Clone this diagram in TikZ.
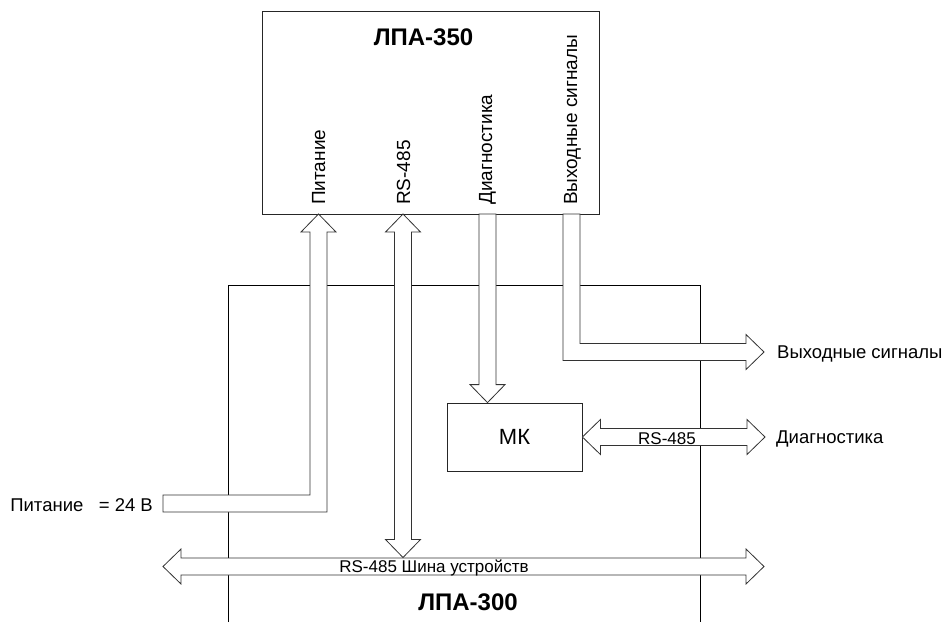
\documentclass[tikz,border=0pt]{standalone}
\usepackage{fontspec}
\setmainfont{Liberation Sans}
\usetikzlibrary{calc,positioning}
\tikzset{
  blk/.style={draw=black!85,line width=.8pt,fill=white,inner sep=0pt},
  fat/.style={draw=black!80,line width=.8pt,fill=white,line join=miter},
  frm/.style={draw=black,line width=.8pt},
  lbl/.style={font=\fontsize{17}{20}\selectfont,inner sep=0pt},
  olbl/.style={font=\fontsize{18.5}{22}\selectfont,inner sep=0pt},
  vlbl/.style={font=\fontsize{19}{22}\selectfont,inner sep=0pt,rotate=90,anchor=base west},
  ttl/.style={font=\fontsize{24}{28}\selectfont\bfseries,inner sep=0pt,anchor=base},
}

\begin{document}
\begin{tikzpicture}[x=1pt,y=-1pt]
  \useasboundingbox (0,0) rectangle (943,622);
  % LPA-300 frame (open at the bottom)
  \draw[frm] (228,622) -- (228,285) -- (700,285) -- (700,622);
  \node[ttl] (t300) at (468,610) {ЛПА-300};
  % LPA-350 box and its ports
  \node[blk,minimum width=337,minimum height=203] (lpa350) at (430.5,112.5) {};
  \node[ttl] (t350) at (423.5,45) {ЛПА-350};
  \node[vlbl] (vPit) at (325,205) {Питание};
  \node[vlbl] (vRS) at (410,205) {RS-485};
  \node[vlbl] (vDiag) at (492,205) {Диагностика};
  \node[vlbl] (vOut) at (577,205) {Выходные сигналы};
  \coordinate (pPit) at (318.5,214);
  \coordinate (pRS) at (403,214);
  \coordinate (pDiag) at (487.5,214);
  \coordinate (pOut) at (571.5,214);
  % MK
  \node[blk,minimum width=135,minimum height=68,font=\fontsize{22}{26}\selectfont] (mk) at (514.5,437) {МК};
  % free ends
  \coordinate (inPit) at (163,503.5);
  \coordinate (busL) at (163,566.5);
  \coordinate (busR) at (764,566.5);
  \coordinate (outR) at (764,352);
  \coordinate (diagR) at (765,437);
  % bus
  \draw[fat] (busL) -- ($(busL)+(18,-17.5)$) -- ($(busL)+(18,-8.5)$) -- ($(busR)+(-18,-8.5)$) -- ($(busR)+(-18,-17.5)$) -- (busR)
    -- ($(busR)+(-18,17.5)$) -- ($(busR)+(-18,8.5)$) -- ($(busL)+(18,8.5)$) -- ($(busL)+(18,17.5)$) -- cycle;
  \node[lbl,anchor=base] (lBus) at (434,572.5) {RS-485 Шина устройств};
  % power input
  \coordinate (cPit) at (pPit |- inPit);
  \draw[fat] ($(inPit)+(0,-8.5)$) -- ($(cPit)+(-8.5,-8.5)$) -- ($(pPit)+(-8.5,18)$) -- ($(pPit)+(-17.5,18)$) -- (pPit)
    -- ($(pPit)+(17.5,18)$) -- ($(pPit)+(8.5,18)$) -- ($(cPit)+(8.5,8.5)$) -- ($(inPit)+(0,8.5)$) -- cycle;
  \node[olbl,anchor=base east] (lPit) at (153,511) {Питание\ \ \ = 24 В};
  % RS-485 down to the bus
  \coordinate (bRS) at ($(pRS |- busL)+(0,-9)$);
  \draw[fat] (pRS) -- ($(pRS)+(17.5,18)$) -- ($(pRS)+(8.5,18)$) -- ($(bRS)+(8.5,-18)$) -- ($(bRS)+(17.5,-18)$) -- (bRS)
    -- ($(bRS)+(-17.5,-18)$) -- ($(bRS)+(-8.5,-18)$) -- ($(pRS)+(-8.5,18)$) -- ($(pRS)+(-17.5,18)$) -- cycle;
  % diagnostics to MK
  \coordinate (tDiag) at (pDiag |- mk.north);
  \draw[fat] ($(pDiag)+(-8.5,0)$) -- ($(tDiag)+(-8.5,-18)$) -- ($(tDiag)+(-17.5,-18)$) -- (tDiag)
    -- ($(tDiag)+(17.5,-18)$) -- ($(tDiag)+(8.5,-18)$) -- ($(pDiag)+(8.5,0)$) -- cycle;
  % output signals
  \coordinate (cOut) at (pOut |- outR);
  \draw[fat] ($(pOut)+(-8.5,0)$) -- ($(cOut)+(-8.5,8.5)$) -- ($(outR)+(-18,8.5)$) -- ($(outR)+(-18,17.5)$) -- (outR)
    -- ($(outR)+(-18,-17.5)$) -- ($(outR)+(-18,-8.5)$) -- ($(cOut)+(8.5,-8.5)$) -- ($(pOut)+(8.5,0)$) -- cycle;
  \node[olbl,anchor=base west] (lOut) at (777,358) {Выходные сигналы};
  % MK link out
  \draw[fat] (mk.east) -- ($(mk.east)+(18,-17.5)$) -- ($(mk.east)+(18,-8.5)$) -- ($(diagR)+(-18,-8.5)$) -- ($(diagR)+(-18,-17.5)$) -- (diagR)
    -- ($(diagR)+(-18,17.5)$) -- ($(diagR)+(-18,8.5)$) -- ($(mk.east)+(18,8.5)$) -- ($(mk.east)+(18,17.5)$) -- cycle;
  \node[lbl,anchor=base] (lMkRS) at (667,444) {RS-485};
  \node[olbl,anchor=base west] (lDiag) at (776,443) {Диагностика};
\end{tikzpicture}
\end{document}
